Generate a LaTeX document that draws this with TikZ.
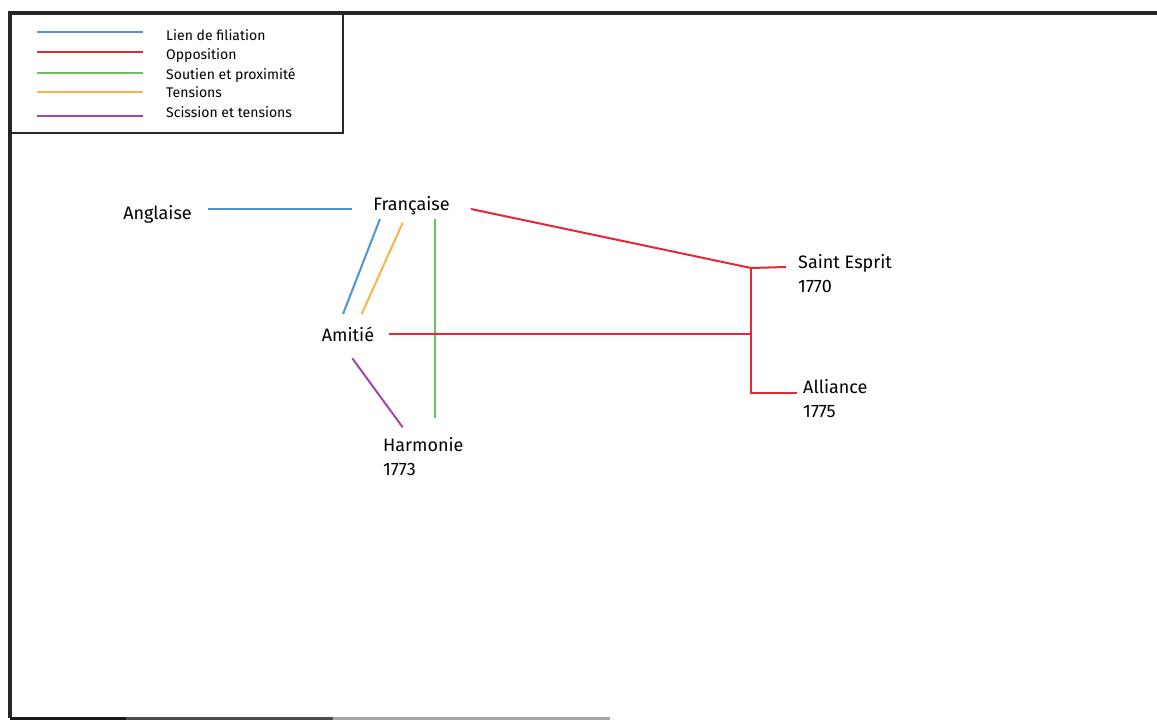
\documentclass[tikz,border=0pt]{standalone}
\usepackage{fontspec}
\setmainfont{Fira Sans}
\usetikzlibrary{calc}
\definecolor{cfil}{RGB}{75,150,212}
\definecolor{copp}{RGB}{232,38,52}
\definecolor{csou}{RGB}{105,192,95}
\definecolor{cten}{RGB}{250,180,70}
\definecolor{csci}{RGB}{165,70,165}
\begin{document}
\begin{tikzpicture}[x=1pt,y=-1pt,
  lab/.style={font=\fontsize{18}{24}\selectfont, inner sep=0pt, text height=13pt, text depth=4pt},
  lab2/.style={font=\fontsize{18}{24}\selectfont, inner sep=0pt, align=left, anchor=base west},
  leg/.style={font=\fontsize{14}{15}\selectfont, inner sep=0pt, anchor=base west},
  conn/.style={line width=2pt},
  legl/.style={line width=1.8pt},
  fil/.style={color=cfil},
  opp/.style={color=copp},
  sou/.style={color=csou},
  ten/.style={color=cten},
  sci/.style={color=csci},
  frame/.style={line width=3.5pt, black!85}
]
\useasboundingbox (0,0) rectangle (1157,721);
\fill[white] (0,0) rectangle (1157,721);

% outer frame
\draw[frame] (1157,13) -- (10,13) -- (10,718);
\draw[line width=3pt, black!90] (10,718) -- (126,718);
\draw[line width=3pt, black!70] (126,718) -- (333,718);
\draw[line width=3pt, black!35] (333,718) -- (610,718);

% legend
\draw[line width=2pt, black!85] (10,13) rectangle (343,133);
\draw[legl,fil] (37,32) -- (143,32);
\draw[legl,opp] (37,52) -- (143,52);
\draw[legl,sou] (37,73) -- (143,73);
\draw[legl,ten] (37,92) -- (143,92);
\draw[legl,sci] (37,116) -- (143,116);
\node[leg] (l1) at (166,40) {Lien de filiation};
\node[leg] (l2) at (166,59) {Opposition};
\node[leg] (l3) at (166,79) {Soutien et proximité};
\node[leg] (l4) at (166,97) {Tensions};
\node[leg] (l5) at (166,117) {Scission et tensions};

% nodes
\node[lab] (ang) at (157.5,214.5) {Anglaise};
\node[lab] (fr) at (411.5,205.5) {Française};
\node[lab] (am) at (348,336.5) {Amitié};
\node[lab2] (harm) at (383,475) {Harmonie\\1773};
\node[lab2] (se) at (798,292) {Saint Esprit\\1770};
\node[lab2] (al) at (803,417) {Alliance\\1775};

\coordinate (jse) at (751,268);
\coordinate (jam) at (751,334);
\coordinate (jal) at (751,393);

% connectors
\draw[conn,fil] ([shift={(50.5,-5.5)}]ang.center) -- ([shift={(-59.5,3.5)}]fr.center);
\draw[conn,fil] ([shift={(-31.5,13.5)}]fr.center) -- ([shift={(-5,-22.5)}]am.center);
\draw[conn,ten] ([shift={(-8.8,17.2)}]fr.center) -- ([shift={(13.7,-22.5)}]am.center);
\draw[conn,sou] ([shift={(23.5,13.5)}]fr.center) -- ([shift={(52,-57)}]harm.base west);
\draw[conn,sci] ([shift={(4.3,21.8)}]am.center) -- ([shift={(19.7,-47.7)}]harm.base west);
\draw[conn,opp] ([shift={(59.5,3.5)}]fr.center) -- (jse) -- ([shift={(-12,-25)}]se.base west);
\draw[conn,opp] ([shift={(41.3,-2.5)}]am.center) -- (jam);
\draw[conn,opp] (jse) -- (jal) -- ([shift={(-6,-24)}]al.base west);
\end{tikzpicture}
\end{document}
